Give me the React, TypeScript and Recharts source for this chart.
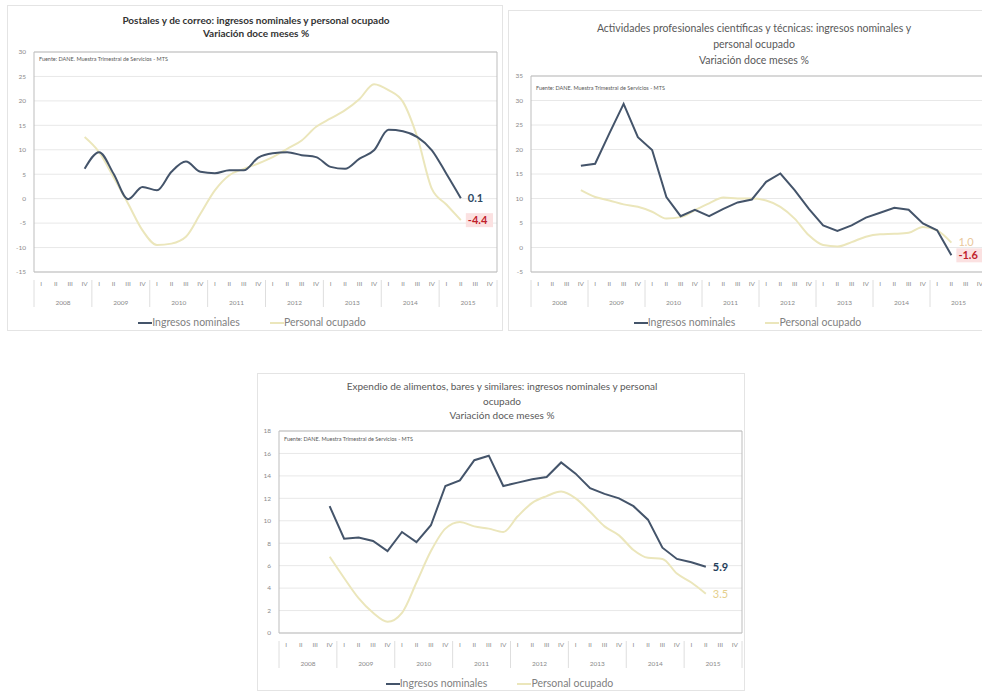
import React from 'react';
import {
  LineChart,
  Line,
  XAxis,
  YAxis,
  CartesianGrid,
  Legend,
  LabelList,
  ReferenceArea,
} from 'recharts';

// quarters 2008 I .. 2015 IV, series start at 2008 IV
const quarters = ['I', 'II', 'III', 'IV'];
const years = ['2008', '2009', '2010', '2011', '2012', '2013', '2014', '2015'];
const firstIdx = 3;

const postalesIngresos = [6.1, 9.5, 5.1, -0.1, 2.4, 1.7, 5.5, 7.6, 5.5, 5.2, 5.8, 5.8, 8.4, 9.3, 9.5, 8.9, 8.5, 6.5, 6.1, 8.2, 9.9, 14.1, 13.8, 12.6, 9.9, 5.1, 0.1];
const postalesPersonal = [12.6, 9.5, 4.4, -1.0, -6.5, -9.5, -9.2, -7.8, -3.1, 1.7, 4.8, 6.1, 7.2, 8.5, 10.2, 11.9, 14.7, 16.4, 18.1, 20.4, 23.4, 22.2, 19.8, 12.5, 2.0, -1.2, -4.4];
const postalesTicks = [-15, -10, -5, 0, 5, 10, 15, 20, 25, 30];

const profIngresos = [16.7, 17.1, 23.3, 29.3, 22.5, 19.9, 10.3, 6.4, 7.7, 6.4, 7.9, 9.2, 9.8, 13.4, 15.1, 11.7, 7.9, 4.5, 3.4, 4.5, 6.1, 7.1, 8.1, 7.7, 4.9, 3.5, -1.6];
const profPersonal = [11.7, 10.3, 9.6, 8.8, 8.3, 7.3, 5.9, 6.2, 7.6, 9.0, 10.2, 10.0, 10.0, 9.6, 8.3, 5.9, 2.5, 0.5, 0.2, 1.1, 2.2, 2.7, 2.8, 3.0, 4.2, 3.5, 1.0];
const profTicks = [-5, 0, 5, 10, 15, 20, 25, 30, 35];

const alimIngresos = [11.3, 8.4, 8.5, 8.2, 7.3, 9.0, 8.1, 9.6, 13.1, 13.6, 15.4, 15.8, 13.1, 13.4, 13.7, 13.9, 15.2, 14.2, 12.9, 12.4, 12.0, 11.3, 10.1, 7.6, 6.6, 6.3, 5.9];
const alimPersonal = [6.8, 4.9, 3.1, 1.8, 1.0, 1.8, 4.5, 7.3, 9.3, 9.9, 9.5, 9.3, 9.0, 10.4, 11.6, 12.2, 12.6, 12.0, 10.8, 9.5, 8.7, 7.4, 6.7, 6.6, 5.3, 4.5, 3.5];
const alimTicks = [0, 2, 4, 6, 8, 10, 12, 14, 16, 18];

const FONT = 'Lato, "Open Sans", sans-serif';
const NAVY = '#44546a';
const BEIGE = '#ebe6bb';
const TICK = '#8a8a8a';
const RED = '#c0202a';
const PINK = '#fbe1e1';

function buildRows(ing: number[], per: number[]) {
  const rows: any[] = [];
  years.forEach((y, yi) =>
    quarters.forEach((q, qi) => {
      const i = yi * 4 + qi;
      const k = i - firstIdx;
      const inside = k >= 0 && k < ing.length;
      rows.push({ pos: i + 0.5, q, year: y, ing: inside ? ing[k] : null, per: inside ? per[k] : null });
    })
  );
  return rows;
}

const quarterTicks = years.flatMap((_, yi) => quarters.map((__, qi) => yi * 4 + qi + 0.5));
const yearTicks = Array.from({ length: years.length * 2 + 1 }, (_, i) => i * 2);

const YearTick = (props: any) => {
  const { x, y, payload } = props;
  const v = payload.value;
  if (v % 4 === 0) {
    return <line x1={x} x2={x} y1={y - 8} y2={y + 19} stroke="#dedede" />;
  }
  return (
    <text x={x} y={y + 17} textAnchor="middle" fontSize={6.5} fill={TICK} fontFamily={FONT}>
      {years[(v - 2) / 4]}
    </text>
  );
};

type EndStyle = { color: string; bold?: boolean; bg?: string };

const endLabel = (lastIndex: number, st: EndStyle) => (props: any) => {
  const { x, y, index, value } = props;
  if (index !== lastIndex || value == null) return null;
  const txt = Number(value).toFixed(1);
  const w = txt.length * 6.3 + 2;
  return (
    <g>
      {st.bg && <rect x={x + 5} y={y - 7} width={w} height={14} fill={st.bg} />}
      <text
        x={x + 7}
        y={y}
        dy="0.35em"
        fontSize={11}
        fontWeight={st.bold ? 700 : 400}
        fill={st.color}
        fontFamily={FONT}
      >
        {txt}
      </text>
    </g>
  );
};

const LegendContent = () => (
  <div
    style={{
      display: 'flex',
      justifyContent: 'center',
      gap: 30,
      fontSize: 10.5,
      lineHeight: '14px',
      height: 14,
      color: '#7f7f7f',
      fontFamily: FONT,
    }}
  >
    <span>
      <svg width={14} height={8} style={{ verticalAlign: 'middle' }}>
        <line x1={0} x2={14} y1={4} y2={4} stroke={NAVY} strokeWidth={2} />
      </svg>
      Ingresos nominales
    </span>
    <span>
      <svg width={14} height={8} style={{ verticalAlign: 'middle' }}>
        <line x1={0} x2={14} y1={4} y2={4} stroke={BEIGE} strokeWidth={2} />
      </svg>
      Personal ocupado
    </span>
  </div>
);

interface PanelProps {
  left: number;
  top: number;
  width: number;
  height: number;
  yWidth: number;
  plotTop: number;
  plotRight: number;
  bottomSpace: number;
  title: string[];
  titleTop: number;
  titleSize: number;
  lineHeight: number;
  bold?: boolean;
  noteTop: number;
  ing: number[];
  per: number[];
  yTicks: number[];
  ingStyle: EndStyle;
  perStyle: EndStyle;
  ingCurve: 'monotone' | 'linear';
}

function Panel(p: PanelProps) {
  const data = buildRows(p.ing, p.per);
  const lastIndex = firstIdx + p.ing.length - 1;
  const yMin = p.yTicks[0];
  const yMax = p.yTicks[p.yTicks.length - 1];
  const qHeight = 16;
  const yrHeight = 27;
  const legendH = 14;
  return (
    <div
      style={{
        position: 'absolute',
        left: p.left,
        top: p.top,
        width: p.width,
        height: p.height,
        border: '1px solid #e4e4e4',
        boxSizing: 'border-box',
        background: '#fff',
      }}
    >
      <div
        style={{
          position: 'absolute',
          left: 0,
          top: p.titleTop,
          width: p.width,
          textAlign: 'center',
          fontFamily: FONT,
          fontSize: p.titleSize,
          lineHeight: `${p.lineHeight}px`,
          fontWeight: p.bold ? 700 : 400,
          color: p.bold ? '#333' : '#595959',
        }}
      >
        {p.title.map((t) => (
          <div key={t}>{t}</div>
        ))}
      </div>
      <div style={{ position: 'absolute', left: -1, top: -1 }}>
        <LineChart
          width={p.width}
          height={p.height}
          data={data}
          margin={{
            top: p.plotTop,
            right: p.plotRight,
            left: 0,
            bottom: p.bottomSpace - qHeight - yrHeight - legendH,
          }}
        >
          <CartesianGrid vertical={false} stroke="#e8e8e8" xAxisId="q" />
          <XAxis
            xAxisId="q"
            dataKey="pos"
            type="number"
            domain={[0, years.length * 4]}
            ticks={quarterTicks}
            tickFormatter={(v: number) => quarters[Math.floor(v) % 4]}
            interval={0}
            height={qHeight}
            tickSize={0}
            tickMargin={9}
            axisLine={false}
            tick={{ fontSize: 6.5, fill: TICK, fontFamily: FONT }}
          />
          <XAxis
            xAxisId="yr"
            dataKey="pos"
            type="number"
            domain={[0, years.length * 4]}
            ticks={yearTicks}
            interval={0}
            height={yrHeight}
            tickSize={0}
            tickMargin={0}
            axisLine={false}
            tick={<YearTick />}
          />
          <YAxis
            width={p.yWidth}
            domain={[yMin, yMax]}
            ticks={p.yTicks}
            interval={0}
            axisLine={false}
            tickLine={false}
            tick={{ fontSize: 6.5, fill: TICK, fontFamily: FONT }}
          />
          <ReferenceArea
            xAxisId="q"
            x1={0}
            x2={years.length * 4}
            y1={yMin}
            y2={yMax}
            fill="none"
            stroke="#bdbdbd"
          />
          <Legend verticalAlign="bottom" content={<LegendContent />} />
          <Line
            xAxisId="q"
            dataKey="per"
            name="Personal ocupado"
            type="monotone"
            stroke={BEIGE}
            strokeWidth={2}
            dot={false}
            isAnimationActive={false}
          >
            <LabelList dataKey="per" content={endLabel(lastIndex, p.perStyle)} />
          </Line>
          <Line
            xAxisId="q"
            dataKey="ing"
            name="Ingresos nominales"
            type={p.ingCurve}
            stroke={NAVY}
            strokeWidth={2}
            dot={false}
            isAnimationActive={false}
          >
            <LabelList dataKey="ing" content={endLabel(lastIndex, p.ingStyle)} />
          </Line>
        </LineChart>
      </div>
      <div
        style={{
          position: 'absolute',
          left: p.yWidth + 4,
          top: p.noteTop,
          fontFamily: FONT,
          fontSize: 5.5,
          color: '#595959',
          whiteSpace: 'nowrap',
        }}
      >
        Fuente: DANE. Muestra Trimestral de Servicios - MTS
      </div>
    </div>
  );
}

export default function App() {
  return (
    <div
      style={{
        position: 'fixed',
        left: 0,
        top: 0,
        width: 982,
        height: 691,
        overflow: 'hidden',
        background: '#fff',
      }}
    >
      <Panel
        left={7}
        top={5}
        width={496}
        height={326}
        yWidth={27}
        plotTop={47}
        plotRight={6}
        bottomSpace={59}
        title={['Postales y de correo: ingresos nominales y personal ocupado', 'Variación doce meses %']}
        titleTop={8}
        titleSize={10}
        lineHeight={13}
        bold
        noteTop={50}
        ing={postalesIngresos}
        per={postalesPersonal}
        yTicks={postalesTicks}
        ingStyle={{ color: '#2f4a63', bold: true }}
        perStyle={{ color: RED, bold: true, bg: PINK }}
        ingCurve="monotone"
      />
      <Panel
        left={508}
        top={10}
        width={490}
        height={321}
        yWidth={23}
        plotTop={66}
        plotRight={11}
        bottomSpace={59}
        title={[
          'Actividades profesionales científicas y técnicas: ingresos nominales y',
          'personal ocupado',
          'Variación doce meses %',
        ]}
        titleTop={9}
        titleSize={10.5}
        lineHeight={16}
        noteTop={74}
        ing={profIngresos}
        per={profPersonal}
        yTicks={profTicks}
        ingStyle={{ color: RED, bold: true, bg: PINK }}
        perStyle={{ color: '#e9c79b' }}
        ingCurve="linear"
      />
      <Panel
        left={257}
        top={373}
        width={488}
        height={318}
        yWidth={22}
        plotTop={58}
        plotRight={3}
        bottomSpace={58}
        title={[
          'Expendio de alimentos, bares y similares: ingresos nominales y personal',
          'ocupado',
          'Variación doce meses %',
        ]}
        titleTop={5}
        titleSize={10}
        lineHeight={14.5}
        noteTop={62}
        ing={alimIngresos}
        per={alimPersonal}
        yTicks={alimTicks}
        ingStyle={{ color: '#1f3d5a', bold: true }}
        perStyle={{ color: '#e5cf8c' }}
        ingCurve="linear"
      />
    </div>
  );
}
